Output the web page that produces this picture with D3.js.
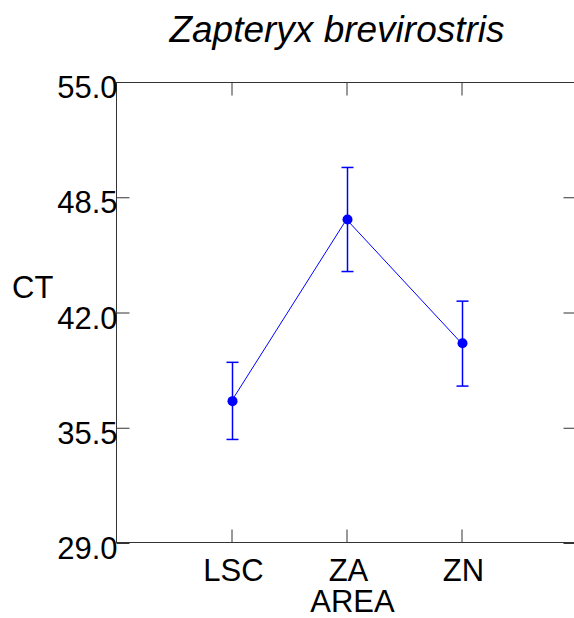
<!DOCTYPE html>
<html>
<head>
<meta charset="utf-8">
<script src="https://cdn.jsdelivr.net/npm/d3@7"></script>
<style>
  html, body { margin: 0; padding: 0; background: #fff; }
  svg { display: block; }
  text { font-family: "Liberation Sans", Arial, sans-serif; fill: #000; }
</style>
</head>
<body>
<svg id="chart" width="574" height="618"></svg>
<script>
// CT by area, mean with error bars
const areas = ["LSC", "ZA", "ZN"];
const means = [37.0, 47.25, 40.27];
const upper = [39.19, 50.18, 42.64];
const lower = [34.84, 44.31, 37.85];
const yTicks = [29.0, 35.5, 42.0, 48.5, 55.0];

const svg = d3.select("#chart");
const plotL = 116.5, plotR = 576.5, plotT = 82, plotB = 543;
const axisColor = "#333";
const markColor = "#0000ff";

const x = d3.scaleLinear().domain([0, 4]).range([plotL, plotR]);
const y = d3.scaleLinear().domain([29, 55]).range([plotB, plotT]);

// frame lines
const frame = svg.append("g").attr("stroke", axisColor).attr("stroke-width", 1).attr("fill", "none");
frame.append("line").attr("x1", plotL).attr("x2", plotR).attr("y1", plotT + 0.5).attr("y2", plotT + 0.5);
frame.append("line").attr("x1", plotL).attr("x2", plotR).attr("y1", plotB - 0.5).attr("y2", plotB - 0.5);
frame.append("line").attr("x1", plotL).attr("x2", plotL).attr("y1", plotT).attr("y2", plotB);
frame.append("line").attr("x1", plotR).attr("x2", plotR).attr("y1", plotT).attr("y2", plotB);

// inward tick marks on all four sides
const tickLen = 13;
const yAxisL = d3.axisRight(y).tickValues(yTicks).tickSize(tickLen).tickFormat("");
const yAxisR = d3.axisLeft(y).tickValues(yTicks).tickSize(tickLen).tickFormat("");
const xPos = areas.map((d, i) => i + 1);
const xAxisB = d3.axisTop(x).tickValues(xPos).tickSize(tickLen).tickFormat("");
const xAxisT = d3.axisBottom(x).tickValues(xPos).tickSize(tickLen).tickFormat("");

function styleAxis(g) {
  g.select(".domain").remove();
  g.selectAll(".tick line").attr("stroke", axisColor);
}
svg.append("g").attr("transform", `translate(${plotL},0)`).call(yAxisL).call(styleAxis);
svg.append("g").attr("transform", `translate(${plotR},0)`).call(yAxisR).call(styleAxis);
svg.append("g").attr("transform", `translate(0,${plotB - 0.5})`).call(xAxisB).call(styleAxis);
svg.append("g").attr("transform", `translate(0,${plotT + 0.5})`).call(xAxisT).call(styleAxis);

// y tick labels
svg.append("g").selectAll("text").data(yTicks).join("text")
  .attr("x", plotL + 1)
  .attr("y", d => y(d) + 16)
  .attr("text-anchor", "end")
  .attr("font-size", 31)
  .text(d => d.toFixed(1));

// x category labels
svg.append("g").selectAll("text").data(areas).join("text")
  .attr("x", (d, i) => x(i + 1) + 2)
  .attr("y", 581)
  .attr("text-anchor", "middle")
  .attr("font-size", 31)
  .text(d => d);

// axis titles
svg.append("text").attr("x", x(2) + 6).attr("y", 612).attr("text-anchor", "middle")
  .attr("font-size", 31).text("AREA");
svg.append("text").attr("x", 12).attr("y", 298).attr("text-anchor", "start")
  .attr("font-size", 31).text("CT");

// chart title
svg.append("text").attr("x", 337).attr("y", 42).attr("text-anchor", "middle")
  .attr("font-size", 37).attr("font-style", "italic").text("Zapteryx brevirostris");

// connecting line of means
const pts = areas.map((a, i) => ({ a, xi: i + 1, m: means[i], hi: upper[i], lo: lower[i] }));
svg.append("path").datum(pts)
  .attr("fill", "none").attr("stroke", markColor).attr("stroke-width", 1)
  .attr("d", d3.line().x(d => x(d.xi)).y(d => y(d.m)));

// error bars
const eb = svg.append("g").attr("stroke", markColor).attr("stroke-width", 1.5);
const capW = 6;
pts.forEach(d => {
  const cx = Math.round(x(d.xi)) + 0.5;
  eb.append("line").attr("x1", cx).attr("x2", cx).attr("y1", y(d.hi)).attr("y2", y(d.lo));
  eb.append("line").attr("x1", cx - capW).attr("x2", cx + capW).attr("y1", y(d.hi)).attr("y2", y(d.hi));
  eb.append("line").attr("x1", cx - capW).attr("x2", cx + capW).attr("y1", y(d.lo)).attr("y2", y(d.lo));
});

// mean points
svg.append("g").selectAll("circle").data(pts).join("circle")
  .attr("cx", d => Math.round(x(d.xi)) + 0.5)
  .attr("cy", d => y(d.m))
  .attr("r", 5)
  .attr("fill", markColor);
</script>
</body>
</html>
